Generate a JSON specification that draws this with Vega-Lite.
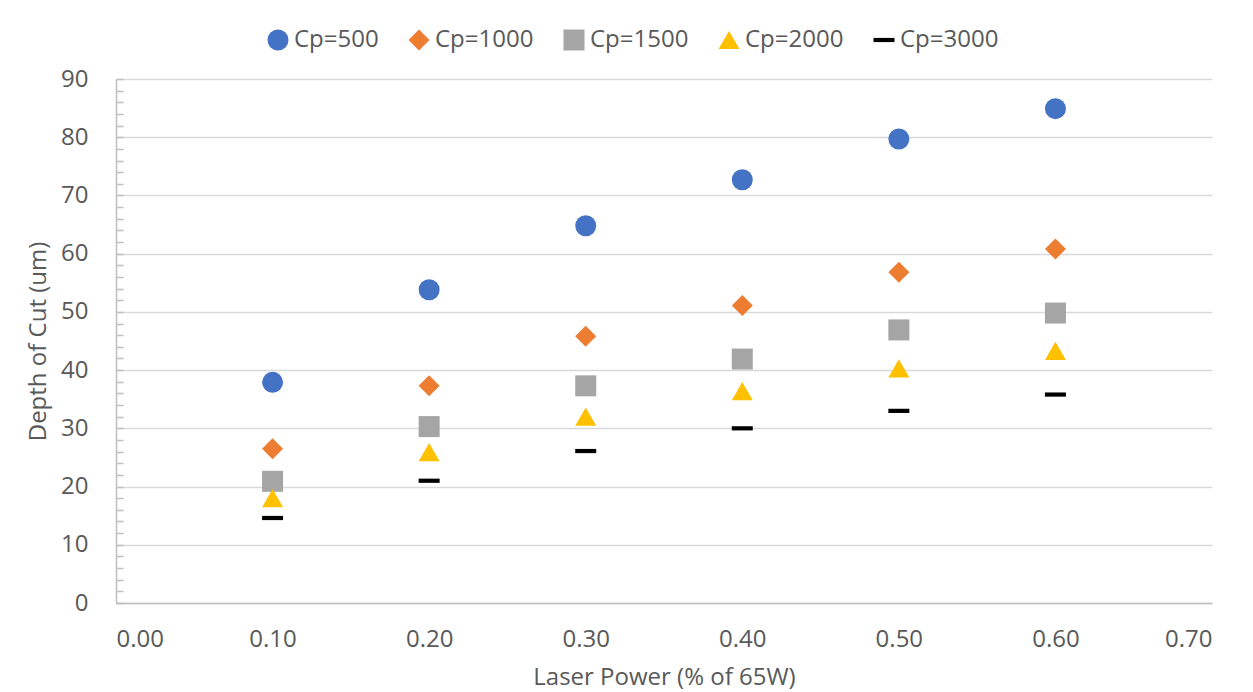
{
  "$schema": "https://vega.github.io/schema/vega-lite/v6.json",
  "autosize": "none",
  "width": 1096,
  "height": 524,
  "padding": {"left": 116, "top": 79, "right": 41, "bottom": 89},
  "background": "#FFFFFF",
  "config": {
    "font": "Open Sans",
    "view": {"stroke": null},
    "axis": {
      "labelFont": "Open Sans",
      "titleFont": "Open Sans",
      "labelFontSize": 24,
      "titleFontSize": 24,
      "labelColor": "#595959",
      "titleColor": "#595959",
      "titleFontWeight": "normal",
      "domainColor": "#BFBFBF",
      "domainWidth": 1.5,
      "tickColor": "#BFBFBF"
    },
    "legend": {
      "labelFont": "Open Sans",
      "labelFontSize": 24,
      "labelColor": "#595959"
    }
  },
  "data": {
    "values": [
      {"power": 0.1, "depth": 37.9, "series": "Cp=500"},
      {"power": 0.2, "depth": 53.8, "series": "Cp=500"},
      {"power": 0.3, "depth": 64.8, "series": "Cp=500"},
      {"power": 0.4, "depth": 72.7, "series": "Cp=500"},
      {"power": 0.5, "depth": 79.7, "series": "Cp=500"},
      {"power": 0.6, "depth": 84.9, "series": "Cp=500"},
      {"power": 0.1, "depth": 26.5, "series": "Cp=1000"},
      {"power": 0.2, "depth": 37.3, "series": "Cp=1000"},
      {"power": 0.3, "depth": 45.8, "series": "Cp=1000"},
      {"power": 0.4, "depth": 51.1, "series": "Cp=1000"},
      {"power": 0.5, "depth": 56.8, "series": "Cp=1000"},
      {"power": 0.6, "depth": 60.8, "series": "Cp=1000"},
      {"power": 0.1, "depth": 20.9, "series": "Cp=1500"},
      {"power": 0.2, "depth": 30.3, "series": "Cp=1500"},
      {"power": 0.3, "depth": 37.3, "series": "Cp=1500"},
      {"power": 0.4, "depth": 41.9, "series": "Cp=1500"},
      {"power": 0.5, "depth": 46.9, "series": "Cp=1500"},
      {"power": 0.6, "depth": 49.8, "series": "Cp=1500"},
      {"power": 0.1, "depth": 18.0, "series": "Cp=2000"},
      {"power": 0.2, "depth": 25.9, "series": "Cp=2000"},
      {"power": 0.3, "depth": 32.0, "series": "Cp=2000"},
      {"power": 0.4, "depth": 36.4, "series": "Cp=2000"},
      {"power": 0.5, "depth": 40.3, "series": "Cp=2000"},
      {"power": 0.6, "depth": 43.3, "series": "Cp=2000"},
      {"power": 0.1, "depth": 14.6, "series": "Cp=3000"},
      {"power": 0.2, "depth": 21.0, "series": "Cp=3000"},
      {"power": 0.3, "depth": 26.1, "series": "Cp=3000"},
      {"power": 0.4, "depth": 30.0, "series": "Cp=3000"},
      {"power": 0.5, "depth": 33.0, "series": "Cp=3000"},
      {"power": 0.6, "depth": 35.8, "series": "Cp=3000"}
    ]
  },
  "mark": {"type": "point", "filled": true, "opacity": 1},
  "encoding": {
    "x": {
      "field": "power",
      "type": "quantitative",
      "title": "Laser Power (% of 65W)",
      "scale": {"domain": [0, 0.7], "nice": false, "zero": true},
      "axis": {
        "values": [0, 0.1, 0.2, 0.3, 0.4, 0.5, 0.6, 0.7],
        "format": ".2f",
        "grid": false,
        "ticks": false,
        "labelPadding": 24,
        "titlePadding": 14
      }
    },
    "y": {
      "field": "depth",
      "type": "quantitative",
      "title": "Depth of Cut (um)",
      "scale": {"domain": [0, 90], "nice": false},
      "axis": {
        "values": [0, 2, 4, 6, 8, 10, 12, 14, 16, 18, 20, 22, 24, 26, 28, 30, 32, 34, 36, 38, 40, 42, 44, 46, 48, 50, 52, 54, 56, 58, 60, 62, 64, 66, 68, 70, 72, 74, 76, 78, 80, 82, 84, 86, 88, 90],
        "labelExpr": "datum.value % 10 === 0 ? datum.label : ''",
        "grid": true,
        "gridColor": "#D9D9D9",
        "gridWidth": 1.5,
        "gridOpacity": {"condition": {"test": "datum.value % 10 === 0", "value": 1}, "value": 0},
        "tickSize": -7,
        "tickWidth": 1.5,
        "labelPadding": 35,
        "titlePadding": 10
      }
    },
    "color": {
      "field": "series",
      "type": "nominal",
      "title": null,
      "scale": {
        "domain": ["Cp=500", "Cp=1000", "Cp=1500", "Cp=2000", "Cp=3000"],
        "range": ["#4472C4", "#ED7D31", "#A5A5A5", "#FFC000", "#000000"]
      },
      "legend": {
        "orient": "none",
        "direction": "horizontal",
        "legendX": 150,
        "legendY": -51,
        "padding": 0,
        "symbolSize": 300,
        "symbolStrokeWidth": 0,
        "labelOffset": 4,
        "columnPadding": 28
      }
    },
    "shape": {
      "field": "series",
      "type": "nominal",
      "title": null,
      "scale": {
        "domain": ["Cp=500", "Cp=1000", "Cp=1500", "Cp=2000", "Cp=3000"],
        "range": ["circle", "diamond", "square", "triangle-up", "M-1,-0.2L1,-0.2L1,0.2L-1,0.2Z"]
      }
    },
    "size": {
      "field": "series",
      "type": "nominal",
      "scale": {
        "domain": ["Cp=500", "Cp=1000", "Cp=1500", "Cp=2000", "Cp=3000"],
        "range": [441, 441, 484, 484, 576]
      },
      "legend": null
    }
  }
}
